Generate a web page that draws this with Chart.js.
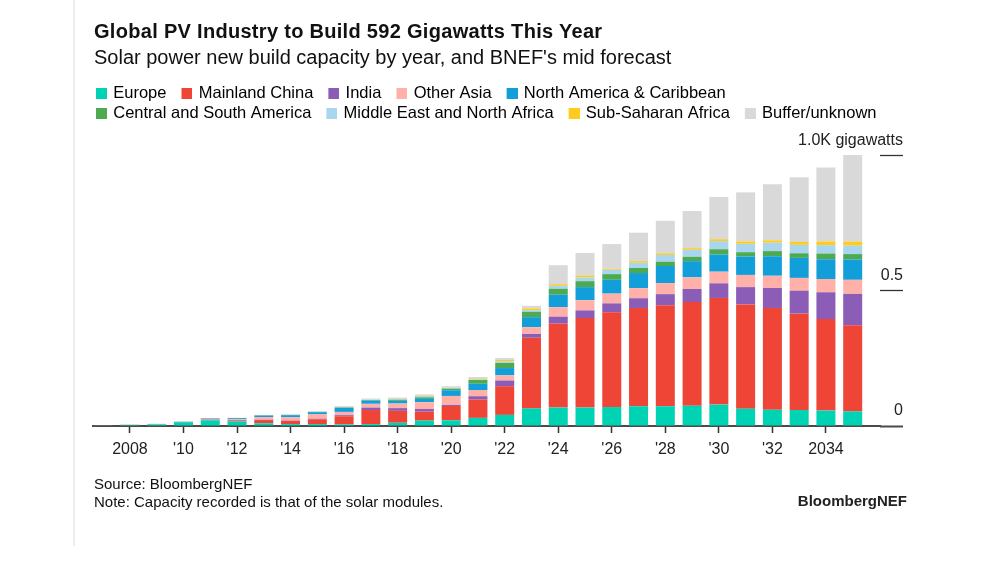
<!DOCTYPE html>
<html>
<head>
<meta charset="utf-8">
<script src="https://cdn.jsdelivr.net/npm/chart.js@4.4.1/dist/chart.umd.min.js"></script>
<style>
html,body{margin:0;padding:0;background:#fff;}
body{width:1000px;height:563px;position:relative;overflow:hidden;font-family:"Liberation Sans",Arial,Helvetica,sans-serif;color:#111;}
#frame{position:absolute;left:73px;top:0;width:2px;height:546px;background:#eeeeee;}
#title{position:absolute;left:94px;top:20px;font-size:20px;line-height:22px;font-weight:bold;letter-spacing:0.3px;white-space:nowrap;color:#111;}
#subtitle{position:absolute;left:94px;top:45px;font-size:20px;line-height:24px;white-space:nowrap;color:#111;}
#source{position:absolute;left:94px;top:475px;font-size:15px;line-height:17.5px;color:#111;white-space:nowrap;}
#logo{position:absolute;right:93px;top:492px;font-size:15px;line-height:17.5px;font-weight:bold;color:#222;}
#chart{position:absolute;left:0;top:0;}
</style>
</head>
<body>
<div id="frame"></div>
<canvas id="chart" width="1000" height="563" style="width:1000px;height:563px"></canvas>
<div id="title">Global PV Industry to Build 592 Gigawatts This Year</div>
<div id="subtitle">Solar power new build capacity by year, and BNEF's mid forecast</div>
<div id="source">Source: BloombergNEF<br>Note: Capacity recorded is that of the solar modules.</div>
<div id="logo">BloombergNEF</div>
<script>
// ---- data (gigawatts) ----
const years = [2007,2008,2009,2010,2011,2012,2013,2014,2015,2016,2017,2018,2019,2020,2021,2022,2023,2024,2025,2026,2027,2028,2029,2030,2031,2032,2033,2034,2035];
const europe       = [1.5,4,6,14,21,17,10,7,7,6,7,12,20,21,30,41,65,68,68,70,73,73,75,79,64,60,59,57,54];
const mainlandChina= [0.2,0.3,0.5,0.8,2.5,4,12,12,18,30,52,44,33,53,68,106,261,310,331,350,363,373,383,394,385,376,356,338,318];
const india        = [0,0,0,0,0.5,1,1,1,2,4,9,10,10,4,12,21,14,26,28,33,36,41,48,54,64,74,85,99,116];
const otherAsia    = [0.3,0.5,0.7,1,2,3,10,12,16,12,14,17,25,33,23,19,25,35,38,36,37,41,43,43,45,45,47,49,52];
const northAmerica = [0.1,0.3,0.5,1,2,4,6,8,8,15,12,10,12,21,23,27,37,46,48,51,56,63,60,63,68,72,74,73,75];
const centralSouthAmerica = [0,0,0,0,0,0.2,0.3,0.5,1,1.5,2,4,6,6,14,19,20,22,22,21,19,16,16,20,16,19,17,21,20];
const middleEastNorthAfrica = [0,0,0,0,0.3,0.3,0.5,1,1,2,2,2,5,4,3,6,6,11,14,16,19,25,26,30,31,31,31,31,31];
const subSaharanAfrica = [0,0,0,0,0,0,0.3,0.5,0.5,0.5,0.5,1,1,1,3,5,6,6,7,4,6,6,6,7,9,9,11,14,15];
const bufferUnknown = [0.3,0.5,0.3,0.5,1.5,1,1,2,2,3,3,5,5,4,5,7,10,70,83,91,105,120,137,156,181,207,239,273,320];

const seriesNames  = ['Europe','Mainland China','India','Other Asia','North America & Caribbean','Central and South America','Middle East and North Africa','Sub-Saharan Africa','Buffer/unknown'];
const seriesColors = ['#00d2b4','#ee4537','#8b5db6','#ffb1a9','#129ed9','#4eaa51','#a9d5ef','#ffcb1f','#d9d9d9'];
const seriesValues = [europe, mainlandChina, india, otherAsia, northAmerica, centralSouthAmerica, middleEastNorthAfrica, subSaharanAfrica, bufferUnknown];

const xTickYears  = [2008,2010,2012,2014,2016,2018,2020,2022,2024,2026,2028,2030,2032,2034];
const xTickLabels = ['2008',"'10","'12","'14","'16","'18","'20","'22","'24","'26","'28","'30","'32",'2034'];
const yTickValues = [0,500,1000];
const yTickLabels = ['0','0.5','1.0K gigawatts'];

// ---- chart ----
const FONT = '"Liberation Sans", Arial, Helvetica, sans-serif';
Chart.defaults.font.family = FONT;

function makeSwatch(color){
  const c = document.createElement('canvas');
  c.width = 24; c.height = 11;
  const g = c.getContext('2d');
  g.fillStyle = color;
  g.fillRect(13, 0, 11, 11);
  return c;
}
const swatches = seriesColors.map(makeSwatch);

const datasets = seriesNames.map((name, i) => ({
  label: name,
  data: seriesValues[i],
  backgroundColor: seriesColors[i],
  borderWidth: 0,
  barPercentage: 0.71,
  categoryPercentage: 1.0
}));

new Chart(document.getElementById('chart'), {
  type: 'bar',
  data: { labels: years, datasets },
  options: {
    responsive: false,
    animation: false,
    layout: { padding: { left: 81, right: 97, top: 81, bottom: 96.8 } },
    plugins: {
      legend: {
        position: 'top',
        align: 'start',
        labels: {
          usePointStyle: true,
          pointStyleWidth: 20,
          boxHeight: 11,
          padding: 4,
          color: '#222',
          font: { family: FONT, size: 16.5 },
          generateLabels: (chart) => chart.data.datasets.map((ds, i) => ({
            text: ds.label,
            fillStyle: ds.backgroundColor,
            strokeStyle: ds.backgroundColor,
            lineWidth: 0,
            hidden: !chart.isDatasetVisible(i),
            datasetIndex: i,
            pointStyle: swatches[i]
          }))
        }
      },
      tooltip: { enabled: false },
      title: { display: false }
    },
    scales: {
      x: {
        type: 'linear',
        stacked: true,
        min: 2006.62,
        max: 2036.02,
        offset: false,
        afterBuildTicks: (s) => { s.ticks = xTickYears.map(v => ({ value: v })); },
        ticks: {
          autoSkip: false,
          maxRotation: 0,
          padding: 7,
          color: '#222',
          font: { family: FONT, size: 16 },
          callback: (v) => { const k = xTickYears.indexOf(v); return k >= 0 ? xTickLabels[k] : ''; }
        },
        grid: { drawOnChartArea: false, drawTicks: true, tickLength: 7, tickColor: '#333', tickWidth: 1.5, offset: false },
        border: { display: true, color: '#4a4a4a', width: 2 }
      },
      y: {
        type: 'linear',
        position: 'right',
        stacked: true,
        min: 0,
        max: 1086,
        afterBuildTicks: (s) => { s.ticks = yTickValues.map(v => ({ value: v })); },
        afterFit: (s) => { s.width = 23; },
        ticks: {
          mirror: true,
          crossAlign: 'near',
          padding: 23,
          labelOffset: -15,
          color: '#222',
          font: { family: FONT, size: 16 },
          callback: (v) => { const k = yTickValues.indexOf(v); return k >= 0 ? yTickLabels[k] : ''; }
        },
        grid: {
          drawOnChartArea: false,
          drawTicks: true,
          tickLength: 23,
          tickColor: (c) => (c.tick && c.tick.value === 0) ? '#4a4a4a' : '#333',
          tickWidth: (c) => (c.tick && c.tick.value === 0) ? 2 : 1.3
        },
        border: { display: false }
      },
      leftGap: {
        type: 'linear',
        position: 'left',
        display: true,
        afterFit: (s) => { s.width = 12; },
        ticks: { display: false },
        grid: { display: false, drawTicks: false },
        border: { display: false }
      }
    }
  }
});
</script>
</body>
</html>
